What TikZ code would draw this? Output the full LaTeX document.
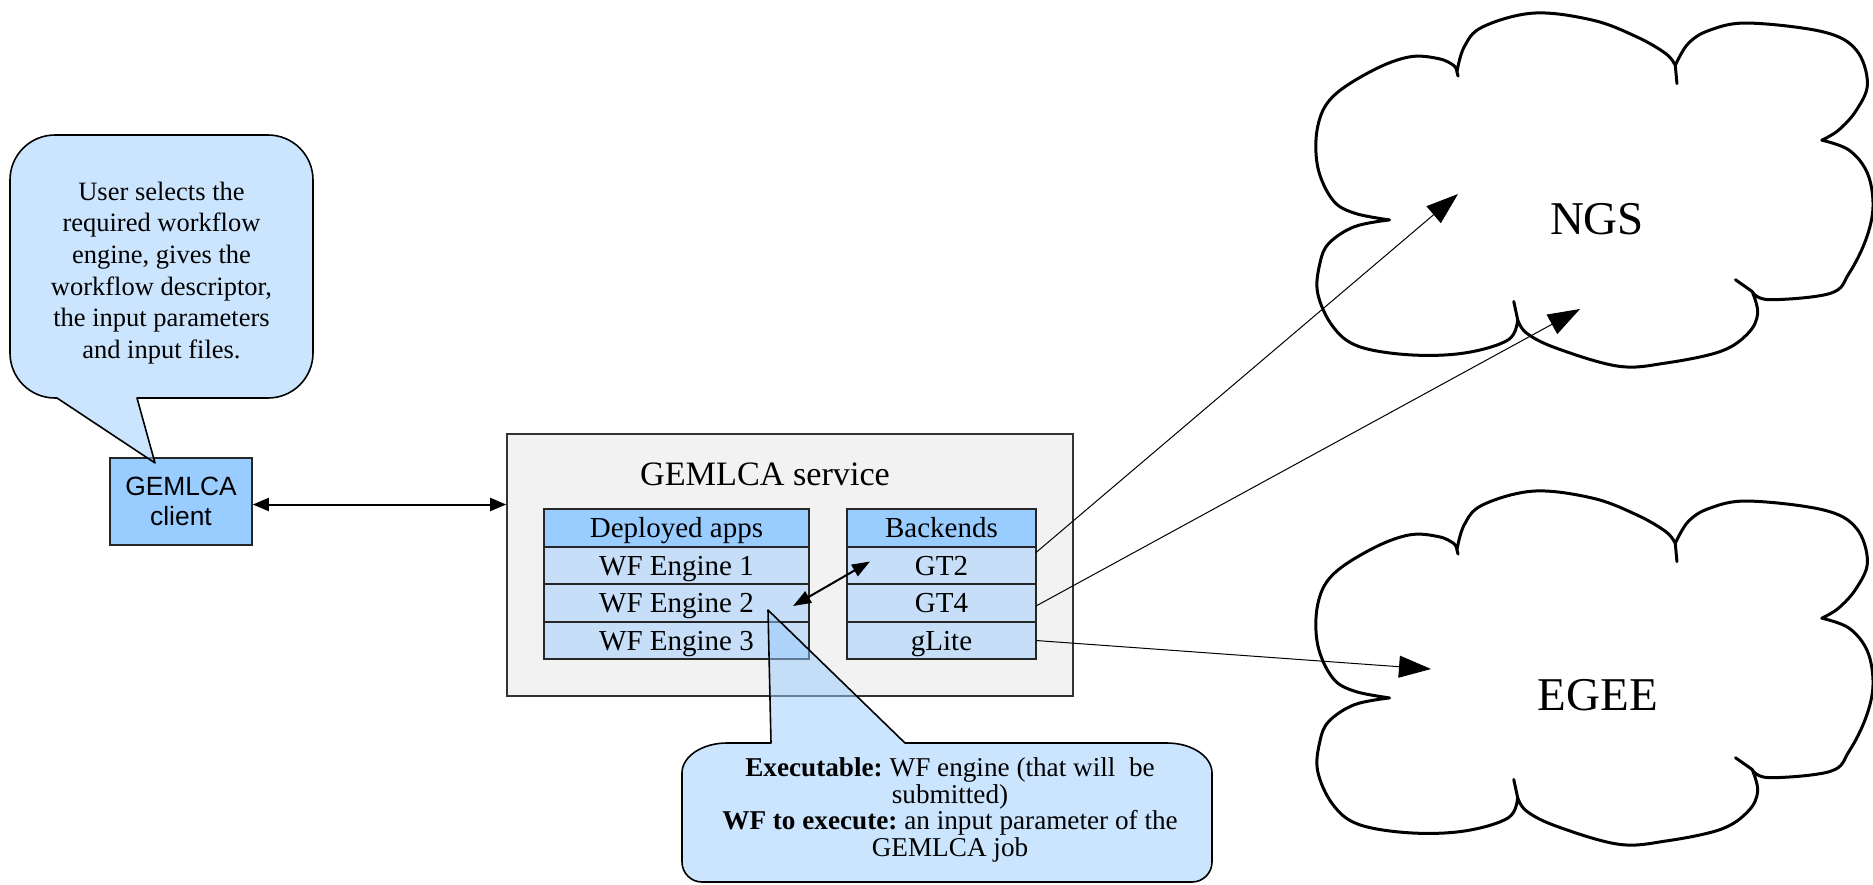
\documentclass[tikz,border=0pt]{standalone}
\usepackage{fontspec}
\setmainfont{Liberation Serif}
\newfontfamily\clientfont{Liberation Sans}
\usetikzlibrary{positioning,arrows.meta,calc}
\definecolor{cHead}{HTML}{99CCFF}
\definecolor{cRow}{HTML}{C6DEF7}
\definecolor{cService}{HTML}{F2F2F2}
\definecolor{cCallout}{HTML}{99CCFF}
\frenchspacing

\tikzset{
  tabhead/.style={draw=black!85,fill=cHead,line width=.8pt,outer sep=0pt,inner sep=0pt,
    minimum height=18.75pt,text height=9.6pt,text depth=0pt,
    font=\fontsize{14.5}{17}\selectfont},
  tabrow/.style={tabhead,fill=cRow},
  calloutshape/.style={draw=black,line width=.8pt,fill=cCallout,fill opacity=.5,line join=round},
  cloudline/.style={draw=black,line width=1.5pt,fill=white,line join=round},
  gridarrow/.style={-{Triangle[length=16pt,width=11pt]},line width=.5pt},
  linkarrow/.style={{Triangle[length=8pt,width=6.5pt]}-{Triangle[length=8pt,width=6.5pt]},line width=1pt},
  swaparrow/.style={{Triangle[length=9pt,width=6.5pt]}-{Triangle[length=9pt,width=6.5pt]},line width=1pt},
}

\newcommand{\gridcloud}[1]{%
  \begin{scope}[shift={#1}]
  \begin{scope}[x=278.5pt,y=-178pt]
    \draw[cloudline]
      plot[smooth,tension=.6] coordinates {(0.132,0.584) (0.069,0.565) (0.030,0.528) (0.003,0.435)
        (0.003,0.322) (0.030,0.238) (0.102,0.164) (0.168,0.126) (0.220,0.131) (0.247,0.150) (0.253,0.168)}
      -- plot[smooth,tension=.6] coordinates {(0.253,0.168) (0.266,0.098) (0.299,0.042) (0.391,0.003)
        (0.497,0.023) (0.576,0.070) (0.628,0.117) (0.645,0.150)}
      -- plot[smooth,tension=.6] coordinates {(0.645,0.150) (0.668,0.089) (0.707,0.051) (0.776,0.031)
        (0.911,0.056) (0.970,0.107) (0.990,0.201) (0.970,0.276) (0.938,0.332) (0.908,0.360)}
      -- plot[smooth,tension=.6] coordinates {(0.908,0.360) (0.957,0.388) (0.990,0.453) (1.0,0.547)
        (0.987,0.640) (0.957,0.734) (0.924,0.790) (0.813,0.808) (0.783,0.785)}
      -- plot[smooth,tension=.6] coordinates {(0.783,0.785) (0.793,0.846) (0.776,0.902) (0.727,0.953)
        (0.628,0.986) (0.543,0.995) (0.431,0.944) (0.378,0.902) (0.362,0.864)}
      -- plot[smooth,tension=.6] coordinates {(0.362,0.864) (0.345,0.921) (0.266,0.958) (0.168,0.963)
        (0.076,0.939) (0.030,0.883) (0.003,0.790) (0.007,0.706) (0.023,0.650) (0.069,0.603) (0.132,0.584)}
      -- cycle;
    \draw[line width=1.5pt,line cap=round] (0.253,0.168) -- (0.255,0.180);
    \draw[line width=1.5pt,line cap=round] (0.645,0.150) -- (0.648,0.201);
    \draw[line width=1.5pt,line cap=round] (0.783,0.785) -- (0.753,0.752);
    \draw[line width=1.5pt,line cap=round] (0.362,0.864) -- (0.355,0.813);
  \end{scope}
  \end{scope}}

\begin{document}
\begin{tikzpicture}[x=0.5pt,y=-0.5pt]
  \useasboundingbox (0,0) rectangle (1873,884);

  \gridcloud{(1316,12)}
  \gridcloud{(1316,490)}
  \node[font=\fontsize{23.5}{28}\selectfont,anchor=base] (ngs) at (1597,234) {NGS};
  \node[font=\fontsize{23.5}{28}\selectfont,anchor=base] (egee) at (1598,710) {EGEE};
  \coordinate (ngsa) at (1458,194);
  \coordinate (ngsb) at (1580,309);
  \coordinate (egeea) at (1431,669);

  \node[draw=black!80,fill=cService,line width=.8pt,inner sep=0pt,
        minimum width=283pt,minimum height=131pt] (service) at (790,565) {};
  \node[font=\fontsize{17.1}{20}\selectfont,anchor=base] (servicetitle) at (765,485) {GEMLCA service};

  \node[tabhead,minimum width=132.5pt] (apps) at (676.5,528) {Deployed apps};
  \node[tabrow,minimum width=132.5pt,below=0pt of apps] (wf1) {WF Engine 1};
  \node[tabrow,minimum width=132.5pt,below=0pt of wf1] (wf2) {WF Engine 2};
  \node[tabrow,minimum width=132.5pt,below=0pt of wf2] (wf3) {WF Engine 3};

  \node[tabhead,minimum width=94.5pt] (backends) at (941.5,528) {Backends};
  \node[tabrow,minimum width=94.5pt,below=0pt of backends] (gt2) {GT2};
  \node[tabrow,minimum width=94.5pt,below=0pt of gt2] (gt4) {GT4};
  \node[tabrow,minimum width=94.5pt,below=0pt of gt4] (glite) {gLite};

  \node[draw=black!85,fill=cHead,line width=.8pt,minimum width=71pt,minimum height=43.5pt,
        align=center,font=\clientfont\fontsize{13.2}{15}\selectfont] (client) at (181,501.5) {GEMLCA\\client};

  \draw[linkarrow] ([yshift=-1.5pt]client.east) -- ([yshift=-1.5pt]client.east -| service.west);
  \draw[gridarrow] ([yshift=6.5pt]gt2.east) -- (ngsa);
  \draw[gridarrow] ([yshift=-1.5pt]gt4.east) -- (ngsb);
  \draw[gridarrow] (glite.east) -- (egeea);
  \draw[swaparrow] ([xshift=-8pt,yshift=-1.5pt]wf2.east) -- ([xshift=11.5pt,yshift=2pt]gt2.west);

  \path[calloutshape] (57,398) -- (155,463) -- (137,398) -- (268,398)
    .. controls (292.9,398) and (313,377.9) .. (313,353) -- (313,180)
    .. controls (313,155.1) and (292.9,135) .. (268,135) -- (55,135)
    .. controls (30.1,135) and (10,155.1) .. (10,180) -- (10,353)
    .. controls (10,377.9) and (30.1,398) .. (55,398) -- cycle;
  \node[align=center,font=\fontsize{13.25}{15.8}\selectfont] (usertext) at (161.5,273)
    {User selects the\\required workflow\\engine, gives the\\workflow descriptor,\\the input parameters\\and input files.};

  \path[calloutshape] (771,743) -- (768,610) -- (905,743) -- (1167,743)
    .. controls (1191.8,743) and (1212,756.4) .. (1212,773) -- (1212,862)
    .. controls (1212,873) and (1203,882) .. (1192,882) -- (702,882)
    .. controls (691,882) and (682,873) .. (682,862) -- (682,773)
    .. controls (682,756.4) and (702.2,743) .. (727,743) -- cycle;
  \node[align=center,font=\fontsize{13.6}{13.3}\selectfont] (jobtext) at (950,810)
    {\textbf{Executable:} WF engine (that will\ \ be\\submitted)\\\textbf{WF to execute:} an input parameter of the\\GEMLCA job};
\end{tikzpicture}
\end{document}
